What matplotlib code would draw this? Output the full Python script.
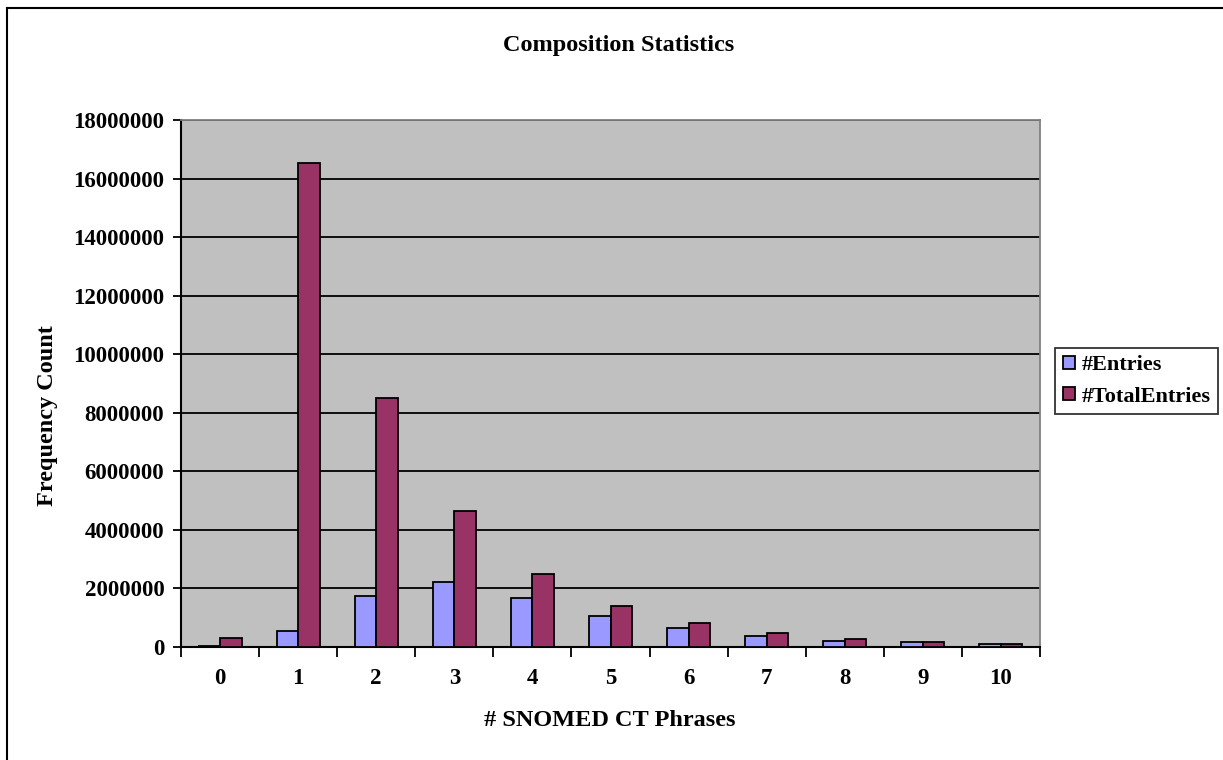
import matplotlib
matplotlib.use("Agg")
import matplotlib.pyplot as plt
import numpy as np
from matplotlib.lines import Line2D

categories = ["0", "1", "2", "3", "4", "5", "6", "7", "8", "9", "10"]
entries = [30000, 540000, 1730000, 2220000, 1670000, 1070000, 640000, 370000, 220000, 170000, 100000]
total_entries = [310000, 16520000, 8500000, 4640000, 2490000, 1410000, 810000, 490000, 260000, 160000, 100000]
yticks = [0, 2000000, 4000000, 6000000, 8000000, 10000000, 12000000, 14000000, 16000000, 18000000]

plt.rcParams['font.family'] = ['Liberation Serif', 'DejaVu Serif']
plt.rcParams['font.weight'] = 'bold'

W, H = 1223, 760
fig = plt.figure(figsize=(W/100, H/100), dpi=100)
ax = fig.add_axes([181/W, 1-647/H, (1040-181)/W, (647-120)/H])
ax.set_facecolor('#C0C0C0')

x = np.arange(len(categories))
w = 0.275
ax.bar(x - w/2, entries, w, color='#9999FF', edgecolor='black', linewidth=1.3, label='#Entries', zorder=3)
ax.bar(x + w/2, total_entries, w, color='#993366', edgecolor='black', linewidth=1.3, label='#TotalEntries', zorder=3)

ax.set_xlim(-0.5, len(categories) - 0.5)
ax.set_ylim(0, 18000000)
ax.set_yticks(yticks)
ax.set_yticklabels([str(v) for v in yticks], fontsize=16.5, fontweight='bold')
ax.yaxis.grid(True, color='black', linewidth=1.3, zorder=1)
ax.set_axisbelow(True)

ax.set_xticks(x)
ax.set_xticklabels(categories, fontsize=16.5, fontweight='bold')
ax.set_xticks(np.arange(-0.5, len(categories)), minor=True)
ax.tick_params(axis='x', which='major', length=0, pad=15)
ax.tick_params(axis='x', which='minor', length=7, width=1.3, direction='out')
ax.tick_params(axis='y', length=6, width=1.3, direction='out', pad=6)

for s in ['top', 'right']:
    ax.spines[s].set_color('#808080')
    ax.spines[s].set_linewidth(1.3)
for s in ['left', 'bottom']:
    ax.spines[s].set_color('black')
    ax.spines[s].set_linewidth(1.5)

fig.text(48/W, 1-416/H, 'Frequency Count', ha='center', va='center', rotation=90,
         fontsize=17.5, fontweight='bold')
fig.text(610/W, 1-720/H, '# SNOMED CT Phrases', ha='center', va='center',
         fontsize=17.5, fontweight='bold')
fig.text(619/W, 1-45/H, 'Composition Statistics', ha='center', va='center',
         fontsize=17.5, fontweight='bold')

leg = ax.legend(loc='center left', bbox_to_anchor=(1055/W, 1-381/H), bbox_transform=fig.transFigure,
                frameon=True, fancybox=False, edgecolor='black', fontsize=16,
                handlelength=0.55, handleheight=0.55, handletextpad=0.3, borderpad=0.35,
                labelspacing=0.5, borderaxespad=0)
leg.get_frame().set_linewidth(1.3)
for t in leg.get_texts():
    t.set_fontweight('bold')

fig.add_artist(Line2D([7/W, 7/W], [0, 1-8/H], transform=fig.transFigure, color='black', linewidth=1.5))
fig.add_artist(Line2D([7/W, 1], [1-8/H, 1-8/H], transform=fig.transFigure, color='black', linewidth=1.5))

fig.savefig('out.png', dpi=100)
